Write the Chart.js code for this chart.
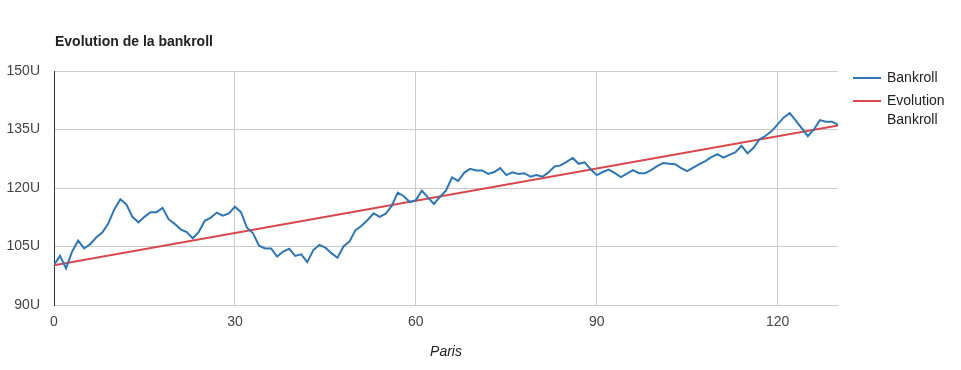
<!DOCTYPE html>
<html>
<head>
<meta charset="utf-8">
<script src="https://cdn.jsdelivr.net/npm/chart.js@4/dist/chart.umd.min.js"></script>
<style>
  body { margin: 0; background: #fff; }
  #wrap { width: 961px; height: 370px; }
</style>
</head>
<body>
<div id="wrap"><canvas id="chart" width="961" height="370"></canvas></div>
<script>
// valeurs
const bankroll = [
  100.3, 102.6, 99.4, 103.7, 106.5, 104.5, 105.6, 107.3, 108.6, 110.9,
  114.5, 117.1, 115.8, 112.6, 111.2, 112.6, 113.8, 113.8, 114.9, 112.0,
  110.8, 109.4, 108.7, 107.1, 108.7, 111.6, 112.4, 113.7, 112.9, 113.5,
  115.2, 113.8, 109.8, 108.4, 105.2, 104.5, 104.5, 102.4, 103.7, 104.4,
  102.6, 103.0, 101.0, 104.1, 105.4, 104.7, 103.3, 102.1, 105.0, 106.3,
  109.2, 110.3, 111.8, 113.5, 112.6, 113.4, 115.4, 118.8, 117.9, 116.4,
  116.9, 119.3, 117.6, 115.9, 117.7, 119.4, 122.7, 121.8, 123.9, 124.9,
  124.5, 124.5, 123.6, 124.1, 125.1, 123.3, 124.0, 123.6, 123.8, 122.9,
  123.3, 122.9, 124.0, 125.5, 125.8, 126.7, 127.7, 126.2, 126.6, 124.8,
  123.3, 124.1, 124.7, 123.8, 122.8, 123.7, 124.6, 123.8, 123.8, 124.6,
  125.6, 126.4, 126.2, 126.1, 125.1, 124.3, 125.2, 126.1, 126.9, 127.9,
  128.7, 127.8, 128.5, 129.2, 130.8, 128.9, 130.3, 132.5, 133.4, 134.6,
  136.3, 138.1, 139.2, 137.3, 135.3, 133.3, 135.0, 137.4, 137.0, 137.0,
  136.2
];
const trendX = [0, 130];
const trendY = [100.2, 136.0];
const xTicks = [0, 30, 60, 90, 120];
const yTicks = [90, 105, 120, 135, 150];

const chartTitle = "Evolution de la bankroll";
const xTitle = "Paris";
const legendLabels = [["Bankroll"], ["Evolution", "Bankroll"]];
const colors = ["#2f76b2", "#d8474c"];

const fontFamily = "'Liberation Sans', Arial, sans-serif";

const ctx = document.getElementById("chart").getContext("2d");

// titre, légende et titre d'axe dessinés à la main (style Google Charts)
const decorPlugin = {
  id: "decor",
  afterDraw(chart) {
    const c = chart.ctx;
    const area = chart.chartArea;
    c.save();
    c.fillStyle = "#222";
    c.textBaseline = "middle";
    c.textAlign = "left";
    c.font = "bold 14px " + fontFamily;
    c.fillText(chartTitle, area.left + 1, 42);

    c.font = "italic 14px " + fontFamily;
    c.textAlign = "center";
    c.fillStyle = "#222";
    c.fillText(xTitle, (area.left + area.right) / 2, 352);

    c.font = "14px " + fontFamily;
    c.textAlign = "left";
    const rows = [78, 101];
    legendLabels.forEach((lines, i) => {
      const y = rows[i];
      c.strokeStyle = colors[i];
      c.lineWidth = 2;
      c.beginPath();
      c.moveTo(853, y);
      c.lineTo(881, y);
      c.stroke();
      c.fillStyle = "#222";
      lines.forEach((txt, j) => {
        c.fillText(txt, 887, y + j * 19);
      });
    });
    c.restore();
  },
};

new Chart(ctx, {
  type: "line",
  data: {
    datasets: [
      {
        label: "Bankroll",
        data: bankroll.map((v, i) => ({ x: i, y: v })),
        borderColor: colors[0],
        backgroundColor: colors[0],
        borderWidth: 2,
        pointRadius: 0,
        tension: 0,
      },
      {
        label: "Evolution Bankroll",
        data: trendX.map((x, i) => ({ x: x, y: trendY[i] })),
        borderColor: colors[1],
        backgroundColor: colors[1],
        borderWidth: 2,
        pointRadius: 0,
        tension: 0,
      },
    ],
  },
  options: {
    responsive: false,
    animation: false,
    layout: {
      padding: { top: 71, right: 123, bottom: 0, left: 0 },
    },
    plugins: {
      legend: { display: false },
      title: { display: false },
      tooltip: { enabled: false },
    },
    scales: {
      x: {
        type: "linear",
        min: 0,
        max: 130,
        afterFit: (scale) => {
          scale.height = 65;
        },
        afterBuildTicks: (scale) => {
          scale.ticks = xTicks.map((v) => ({ value: v }));
        },
        grid: {
          color: "#cccccc",
          drawTicks: false,
        },
        border: { color: "#cccccc" },
        ticks: {
          padding: 9,
          color: "#444",
          maxRotation: 0,
          font: { family: fontFamily, size: 14 },
        },
      },
      y: {
        min: 90,
        max: 150,
        afterFit: (scale) => {
          scale.width = 54;
        },
        afterBuildTicks: (scale) => {
          scale.ticks = yTicks.map((v) => ({ value: v }));
        },
        grid: {
          color: "#cccccc",
          drawTicks: false,
        },
        border: { color: "#333344" },
        ticks: {
          padding: 14,
          color: "#444",
          font: { family: fontFamily, size: 14 },
          callback: (v) => v + "U",
        },
      },
    },
  },
  plugins: [decorPlugin],
});
</script>
</body>
</html>
